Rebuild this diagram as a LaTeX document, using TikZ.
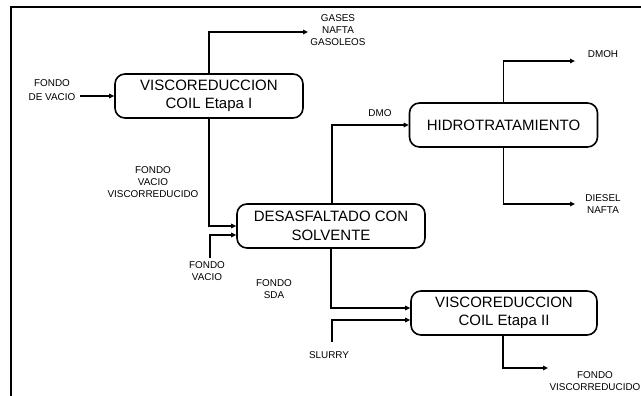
\documentclass[tikz,border=0pt]{standalone}
\usepackage{fontspec}
\setmainfont{Liberation Sans}
\usetikzlibrary{arrows.meta,calc}
\tikzset{
  box/.style={draw, line width=1.6pt, rounded corners=10pt, minimum width=188pt, minimum height=44pt, align=center, inner sep=0pt, font=\fontsize{15}{18.5}\selectfont},
  lbl/.style={align=center, inner sep=0pt, font=\fontsize{9.9}{12}\selectfont},
  arr/.style={line width=1.8pt, -{Triangle[length=5pt,width=4.5pt]}},
  frame/.style={line width=2pt}
}
\begin{document}
\begin{tikzpicture}[x=1pt,y=-1pt]
\useasboundingbox (0,0) rectangle (641,396);
\draw[frame] (11,400) -- (11,7) -- (645,7);
% boxes
\node[box] (b1) at (209,96) {VISCOREDUCCION\\COIL Etapa I};
\node[box] (b2) at (331,226) {DESASFALTADO CON\\SOLVENTE};
\node[box] (b3) at (503.5,125) {HIDROTRATAMIENTO};
\node[box, minimum width=186pt] (b4) at (504,313) {VISCOREDUCCION\\COIL Etapa II};
% labels
\node[lbl] (lgas) at (338,30) {GASES\\NAFTA\\GASOLEOS};
\node[lbl, font=\fontsize{9.9}{14}\selectfont] (lfdv) at (52,90.5) {FONDO\\DE VACIO};
\node[lbl] (lfvv) at (153,182) {FONDO\\VACIO\\VISCORREDUCIDO};
\node[lbl] (lfv) at (207,271) {FONDO\\VACIO};
\node[lbl] (lsda) at (274,289) {FONDO\\SDA};
\node[lbl] (ldmo) at (380,113) {DMO};
\node[lbl] (ldmoh) at (603,54) {DMOH};
\node[lbl] (ldies) at (603,204) {DIESEL\\NAFTA};
\node[lbl] (lslur) at (329,355) {SLURRY};
\node[lbl] (lfvr) at (595,381) {FONDO\\VISCORREDUCIDO};
% free ends
\coordinate (cfdv) at (80,96);
\coordinate (cgas) at (308,32);
\coordinate (cfv) at (210,258);
\coordinate (cdmoh) at (575,61);
\coordinate (cdies) at (575,204);
\coordinate (cslur) at (332,342);
\coordinate (cfvr) at (548,368);
% connectors
\draw[arr] (cfdv) -- (b1.west);
\draw[arr] (b1.north) |- (cgas);
\draw[arr] (b1.south) |- (b2.west);
\draw[arr] (cfv) |- ($(b2.west)+(0,9)$);
\draw[arr] ([xshift=1pt]b2.north) |- (b3.west);
\draw[arr] (b3.north) |- (cdmoh);
\draw[arr] (b3.south) |- (cdies);
\draw[arr] (b2.south) |- ($(b4.west)+(0,-5)$);
\draw[arr] (cslur) |- ($(b4.west)+(0,7)$);
\draw[arr] ([xshift=-1pt]b4.south) |- (cfvr);
\end{tikzpicture}
\end{document}
